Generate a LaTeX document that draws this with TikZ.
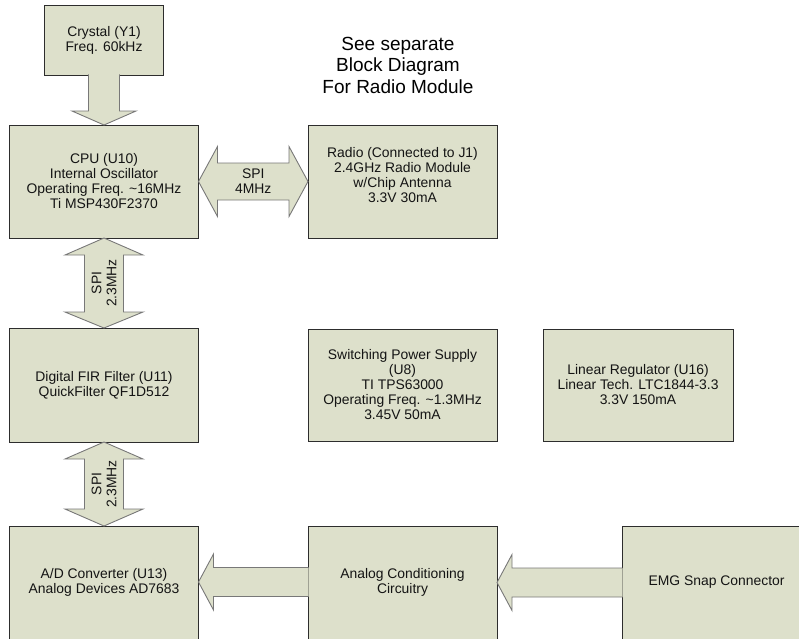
\documentclass[tikz,border=0pt]{standalone}
\usepackage{fontspec}
\setmainfont{Liberation Sans}
\usetikzlibrary{calc}
\definecolor{boxfill}{RGB}{221,224,203}
\definecolor{boxline}{RGB}{45,45,45}
\definecolor{arrline}{RGB}{120,120,120}
\definecolor{txt}{RGB}{20,20,20}
\begin{document}
\begin{tikzpicture}[x=1pt,y=-1pt,
  blk/.style={draw=boxline, line width=1pt, fill=boxfill, inner sep=0pt, outer sep=0pt,
    align=center, font=\fontsize{13.9}{15}\selectfont, text=txt},
  plain/.style={inner sep=0pt, outer sep=0pt, align=center, font=\fontsize{13.9}{15}\selectfont, text=txt},
  barrow/.style={fill=boxfill, draw=arrline, line width=0.9pt, line join=miter}]
\useasboundingbox (0,0) rectangle (799,638);

% boxes
\node[blk, minimum width=119, minimum height=70] (crystal) at (104,40) {Crystal (Y1)\\Freq. 60kHz};
\node[blk, minimum width=189, minimum height=113] (cpu) at (104,181.5) {CPU (U10)\\Internal Oscillator\\Operating Freq. \textasciitilde16MHz\\Ti MSP430F2370};
\node[blk, minimum width=189, minimum height=113] (radio) at (402.5,181.5) {};
\node[plain] (radiotext) at ($(radio.center)+(0,-6)$) {Radio (Connected to J1)\\2.4GHz Radio Module\\w/Chip Antenna\\3.3V 30mA};
\node[blk, minimum width=189, minimum height=114] (fir) at (104,385) {Digital FIR Filter (U11)\\QuickFilter QF1D512};
\node[blk, minimum width=189, minimum height=112] (sps) at (402.5,385) {Switching Power Supply\\(U8)\\TI TPS63000\\Operating Freq. \textasciitilde1.3MHz\\3.45V 50mA};
\node[blk, minimum width=190, minimum height=112] (linreg) at (638,385) {Linear Regulator (U16)\\Linear Tech. LTC1844-3.3\\3.3V 150mA};
% bottom row boxes run past the lower edge of the picture
\node[blk, minimum width=189, minimum height=126] (adc) at (104,589) {};
\node[blk, minimum width=189, minimum height=126] (acc) at (402.5,589) {};
\node[blk, minimum width=189, minimum height=126] (emg) at (716.5,589) {};
\node[plain] (adctext) at ($(adc.center)+(0,-6.5)$) {A/D Converter (U13)\\Analog Devices AD7683};
\node[plain] (acctext) at ($(acc.center)+(0,-7)$) {Analog Conditioning\\Circuitry};
\node[plain] (emgtext) at ($(emg.center)+(0,-6.5)$) {EMG Snap Connector};

\node[plain, font=\fontsize{19}{21.5}\selectfont, text=black] (title) at (398,65) {See separate\\Block Diagram\\For Radio Module};

% crystal -> cpu
\draw[barrow] ($(crystal.south)+(-15.5,-0.6)$) -- ($(crystal.south)+(-15.5,36)$) -- ($(crystal.south)+(-32,36)$)
  -- (cpu.north) -- ($(crystal.south)+(32,36)$) -- ($(crystal.south)+(15.5,36)$) -- ($(crystal.south)+(15.5,-0.6)$);

% cpu <-> radio
\draw[barrow] (cpu.east) -- ($(cpu.east)+(19,-35)$) -- ($(cpu.east)+(19,-18.5)$) -- ($(radio.west)+(-19,-18.5)$)
  -- ($(radio.west)+(-19,-35)$) -- (radio.west) -- ($(radio.west)+(-19,35)$) -- ($(radio.west)+(-19,18.5)$)
  -- ($(cpu.east)+(19,18.5)$) -- ($(cpu.east)+(19,35)$) -- cycle;
\node[plain] (spi1) at ($(cpu.east)!0.5!(radio.west)$) {SPI\\4MHz};

% cpu <-> fir
\draw[barrow] (cpu.south) -- ($(cpu.south)+(39,17)$) -- ($(cpu.south)+(19.5,17)$) -- ($(fir.north)+(19.5,-16)$)
  -- ($(fir.north)+(39,-16)$) -- (fir.north) -- ($(fir.north)+(-39,-16)$) -- ($(fir.north)+(-19.5,-16)$)
  -- ($(cpu.south)+(-19.5,17)$) -- ($(cpu.south)+(-39,17)$) -- cycle;
\node[plain, rotate=90] (spi2) at ($(cpu.south)!0.5!(fir.north)$) {SPI\\2.3MHz};

% fir <-> adc
\draw[barrow] (fir.south) -- ($(fir.south)+(39,17)$) -- ($(fir.south)+(19.5,17)$) -- ($(adc.north)+(19.5,-17)$)
  -- ($(adc.north)+(39,-17)$) -- (adc.north) -- ($(adc.north)+(-39,-17)$) -- ($(adc.north)+(-19.5,-17)$)
  -- ($(fir.south)+(-19.5,17)$) -- ($(fir.south)+(-39,17)$) -- cycle;
\node[plain, rotate=90] (spi3) at ($(fir.south)!0.5!(adc.north)$) {SPI\\2.3MHz};

% acc -> adc
\draw[barrow] ($(acc.west |- acctext.center)+(0.6,-14.5)$) -- ($(adc.east |- acctext.center)+(15,-14.5)$) -- ($(adc.east |- acctext.center)+(15,-28)$) -- (adc.east |- acctext.center)
  -- ($(adc.east |- acctext.center)+(15,28)$) -- ($(adc.east |- acctext.center)+(15,14.5)$) -- ($(acc.west |- acctext.center)+(0.6,14.5)$);

% emg -> acc
\draw[barrow] ($(emg.west |- emgtext.center)+(0.6,-14.5)$) -- ($(acc.east |- emgtext.center)+(15,-14.5)$) -- ($(acc.east |- emgtext.center)+(15,-28)$) -- (acc.east |- emgtext.center)
  -- ($(acc.east |- emgtext.center)+(15,28)$) -- ($(acc.east |- emgtext.center)+(15,14.5)$) -- ($(emg.west |- emgtext.center)+(0.6,14.5)$);
\end{tikzpicture}
\end{document}
